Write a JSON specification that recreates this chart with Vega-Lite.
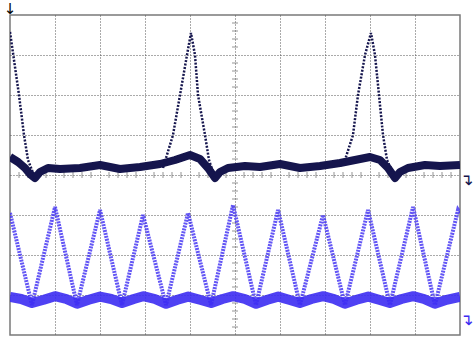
{
  "$schema": "https://vega.github.io/schema/vega-lite/v6.json",
  "width": 450,
  "height": 320,
  "autosize": {"type": "none"},
  "padding": {"left": 10, "top": 15, "right": 13, "bottom": 12},
  "background": "white",
  "config": {
    "view": {"stroke": "#7a7a7a", "strokeWidth": 1.5},
    "axis": {"grid": true, "gridColor": "#555555", "gridDash": [1, 2], "gridWidth": 1, "labels": false, "ticks": false, "domain": false, "title": null}
  },
  "datasets": {
    "ch1band": [
      {"t": 0, "v": 0.45}, {"t": 0.178, "v": 0.325}, {"t": 0.333, "v": 0.175}, {"t": 0.444, "v": 0.025}, {"t": 0.556, "v": -0.075},
      {"t": 0.667, "v": 0.075}, {"t": 0.844, "v": 0.175}, {"t": 1.111, "v": 0.15}, {"t": 1.556, "v": 0.175}, {"t": 2.0, "v": 0.25},
      {"t": 2.444, "v": 0.15}, {"t": 2.889, "v": 0.2}, {"t": 3.333, "v": 0.275}, {"t": 3.667, "v": 0.375}, {"t": 4.0, "v": 0.5},
      {"t": 4.222, "v": 0.4}, {"t": 4.4, "v": 0.175}, {"t": 4.556, "v": -0.075}, {"t": 4.667, "v": 0.075}, {"t": 4.844, "v": 0.175},
      {"t": 5.222, "v": 0.225}, {"t": 5.556, "v": 0.2}, {"t": 6.0, "v": 0.275}, {"t": 6.444, "v": 0.175}, {"t": 6.889, "v": 0.225},
      {"t": 7.333, "v": 0.3}, {"t": 7.667, "v": 0.375}, {"t": 8.0, "v": 0.45}, {"t": 8.222, "v": 0.375}, {"t": 8.4, "v": 0.175},
      {"t": 8.556, "v": -0.075}, {"t": 8.667, "v": 0.075}, {"t": 8.844, "v": 0.175}, {"t": 9.222, "v": 0.25}, {"t": 9.556, "v": 0.225},
      {"t": 10, "v": 0.25}
    ],
    "ch1spike": [
      {"id": "a", "t": 0, "v": 3.575}, {"id": "a", "t": 0.2, "v": 2.0}, {"id": "a", "t": 0.311, "v": 1.0}, {"id": "a", "t": 0.4, "v": 0.375}, {"id": "a", "t": 0.556, "v": -0.075},
      {"id": "b", "t": 3.4, "v": 0.175}, {"id": "b", "t": 3.622, "v": 1.0}, {"id": "b", "t": 3.778, "v": 2.0}, {"id": "b", "t": 3.933, "v": 3.0}, {"id": "b", "t": 4.022, "v": 3.55},
      {"id": "b", "t": 4.111, "v": 3.0}, {"id": "b", "t": 4.178, "v": 2.0}, {"id": "b", "t": 4.333, "v": 1.0}, {"id": "b", "t": 4.422, "v": 0.375}, {"id": "b", "t": 4.556, "v": -0.075},
      {"id": "c", "t": 7.333, "v": 0.225}, {"id": "c", "t": 7.444, "v": 0.375}, {"id": "c", "t": 7.622, "v": 1.0}, {"id": "c", "t": 7.733, "v": 2.0}, {"id": "c", "t": 7.889, "v": 3.0},
      {"id": "c", "t": 8.022, "v": 3.55}, {"id": "c", "t": 8.111, "v": 3.0}, {"id": "c", "t": 8.2, "v": 2.0}, {"id": "c", "t": 8.289, "v": 1.0}, {"id": "c", "t": 8.378, "v": 0.375},
      {"id": "c", "t": 8.556, "v": -0.075}
    ],
    "ch2band": [
      {"t": 0, "v": -3.05}, {"t": 0.25, "v": -3.1}, {"t": 0.49, "v": -3.2}, {"t": 0.75, "v": -3.12}, {"t": 1.0, "v": -3.03},
      {"t": 1.25, "v": -3.1}, {"t": 1.49, "v": -3.22}, {"t": 1.75, "v": -3.12}, {"t": 2.0, "v": -3.04}, {"t": 2.25, "v": -3.1},
      {"t": 2.49, "v": -3.2}, {"t": 2.75, "v": -3.1}, {"t": 2.96, "v": -3.03}, {"t": 3.22, "v": -3.1}, {"t": 3.47, "v": -3.22},
      {"t": 3.72, "v": -3.12}, {"t": 3.96, "v": -3.04}, {"t": 4.22, "v": -3.12}, {"t": 4.47, "v": -3.2}, {"t": 4.72, "v": -3.1},
      {"t": 4.96, "v": -3.03}, {"t": 5.22, "v": -3.1}, {"t": 5.47, "v": -3.22}, {"t": 5.72, "v": -3.12}, {"t": 5.96, "v": -3.04},
      {"t": 6.2, "v": -3.12}, {"t": 6.44, "v": -3.2}, {"t": 6.7, "v": -3.1}, {"t": 6.96, "v": -3.03}, {"t": 7.2, "v": -3.1},
      {"t": 7.44, "v": -3.22}, {"t": 7.7, "v": -3.12}, {"t": 7.96, "v": -3.04}, {"t": 8.2, "v": -3.12}, {"t": 8.44, "v": -3.2},
      {"t": 8.7, "v": -3.1}, {"t": 8.96, "v": -3.03}, {"t": 9.2, "v": -3.1}, {"t": 9.44, "v": -3.22}, {"t": 9.7, "v": -3.12},
      {"t": 10, "v": -3.05}
    ],
    "ch2tri": [
      {"t": 0, "v": -0.95}, {"t": 0.489, "v": -3.25}, {"t": 1.0, "v": -0.8}, {"t": 1.489, "v": -3.25}, {"t": 2.0, "v": -0.875},
      {"t": 2.489, "v": -3.25}, {"t": 2.956, "v": -1.0}, {"t": 3.467, "v": -3.25}, {"t": 3.956, "v": -0.95}, {"t": 4.467, "v": -3.25},
      {"t": 4.956, "v": -0.75}, {"t": 5.467, "v": -3.25}, {"t": 5.956, "v": -0.875}, {"t": 6.444, "v": -3.25}, {"t": 6.956, "v": -1.0},
      {"t": 7.444, "v": -3.25}, {"t": 7.956, "v": -0.875}, {"t": 8.444, "v": -3.25}, {"t": 8.956, "v": -0.8}, {"t": 9.444, "v": -3.25},
      {"t": 9.956, "v": -0.875}, {"t": 10, "v": -0.95}
    ],
    "xt": [
      {"t": 0.2}, {"t": 0.4}, {"t": 0.6}, {"t": 0.8}, {"t": 1.2}, {"t": 1.4}, {"t": 1.6}, {"t": 1.8},
      {"t": 2.2}, {"t": 2.4}, {"t": 2.6}, {"t": 2.8}, {"t": 3.2}, {"t": 3.4}, {"t": 3.6}, {"t": 3.8},
      {"t": 4.2}, {"t": 4.4}, {"t": 4.6}, {"t": 4.8}, {"t": 5.2}, {"t": 5.4}, {"t": 5.6}, {"t": 5.8},
      {"t": 6.2}, {"t": 6.4}, {"t": 6.6}, {"t": 6.8}, {"t": 7.2}, {"t": 7.4}, {"t": 7.6}, {"t": 7.8},
      {"t": 8.2}, {"t": 8.4}, {"t": 8.6}, {"t": 8.8}, {"t": 9.2}, {"t": 9.4}, {"t": 9.6}, {"t": 9.8}
    ],
    "yt": [
      {"v": -3.8}, {"v": -3.6}, {"v": -3.4}, {"v": -3.2}, {"v": -2.8}, {"v": -2.6}, {"v": -2.4}, {"v": -2.2},
      {"v": -1.8}, {"v": -1.6}, {"v": -1.4}, {"v": -1.2}, {"v": -0.8}, {"v": -0.6}, {"v": -0.4}, {"v": -0.2},
      {"v": 0.2}, {"v": 0.4}, {"v": 0.6}, {"v": 0.8}, {"v": 1.2}, {"v": 1.4}, {"v": 1.6}, {"v": 1.8},
      {"v": 2.2}, {"v": 2.4}, {"v": 2.6}, {"v": 2.8}, {"v": 3.2}, {"v": 3.4}, {"v": 3.6}, {"v": 3.8}
    ],
    "markers": [
      {"t": 10, "v": 0, "label": "↴", "ch": "CH1"},
      {"t": 10, "v": -3.5, "label": "↴", "ch": "CH2"}
    ]
  },
  "layer": [
    {
      "data": {"name": "xt"},
      "mark": {"type": "tick", "orient": "vertical", "size": 6, "thickness": 1, "color": "#666666"},
      "encoding": {
        "x": {"field": "t", "type": "quantitative", "scale": {"domain": [0, 10], "nice": false, "zero": false}, "axis": {"values": [1, 2, 3, 4, 5, 6, 7, 8, 9]}},
        "y": {"datum": 0, "type": "quantitative", "scale": {"domain": [-4, 4], "nice": false, "zero": false}, "axis": {"values": [-3, -2, -1, 0, 1, 2, 3]}}
      }
    },
    {
      "data": {"name": "yt"},
      "mark": {"type": "tick", "orient": "horizontal", "size": 6, "thickness": 1, "color": "#666666"},
      "encoding": {
        "x": {"datum": 5, "type": "quantitative"},
        "y": {"field": "v", "type": "quantitative"}
      }
    },
    {
      "data": {"name": "ch1band"},
      "mark": {"type": "line", "color": "#15154d", "strokeWidth": 8, "strokeJoin": "round", "clip": true},
      "encoding": {
        "x": {"field": "t", "type": "quantitative"},
        "y": {"field": "v", "type": "quantitative"}
      }
    },
    {
      "data": {"name": "ch1spike"},
      "mark": {"type": "line", "color": "#15154d", "strokeWidth": 2.5, "strokeDash": [2, 1.5], "clip": true},
      "encoding": {
        "x": {"field": "t", "type": "quantitative"},
        "y": {"field": "v", "type": "quantitative"},
        "detail": {"field": "id"}
      }
    },
    {
      "data": {"name": "ch2band"},
      "mark": {"type": "line", "color": "#3c2cf2", "strokeWidth": 10, "strokeJoin": "round", "opacity": 0.9, "clip": true},
      "encoding": {
        "x": {"field": "t", "type": "quantitative"},
        "y": {"field": "v", "type": "quantitative"}
      }
    },
    {
      "data": {"name": "ch2tri"},
      "mark": {"type": "line", "color": "#3c2cf2", "strokeWidth": 4, "strokeDash": [2, 1], "opacity": 0.8, "clip": true},
      "encoding": {
        "x": {"field": "t", "type": "quantitative"},
        "y": {"field": "v", "type": "quantitative"}
      }
    },
    {
      "data": {"name": "markers"},
      "mark": {"type": "text", "align": "left", "baseline": "top", "dx": 0, "dy": -3, "fontSize": 16, "font": "DejaVu Sans"},
      "encoding": {
        "x": {"field": "t", "type": "quantitative"},
        "y": {"field": "v", "type": "quantitative"},
        "text": {"field": "label"},
        "color": {"field": "ch", "type": "nominal", "scale": {"domain": ["CH1", "CH2"], "range": ["#15154d", "#3c2cf2"]}, "legend": null}
      }
    },
    {
      "data": {"values": [{"t": 0, "v": 4, "label": "↓"}]},
      "mark": {"type": "text", "align": "center", "baseline": "bottom", "dy": 2, "fontSize": 15, "font": "DejaVu Sans", "fill": "#000000"},
      "encoding": {
        "x": {"field": "t", "type": "quantitative"},
        "y": {"field": "v", "type": "quantitative"},
        "text": {"field": "label"}
      }
    }
  ]
}
